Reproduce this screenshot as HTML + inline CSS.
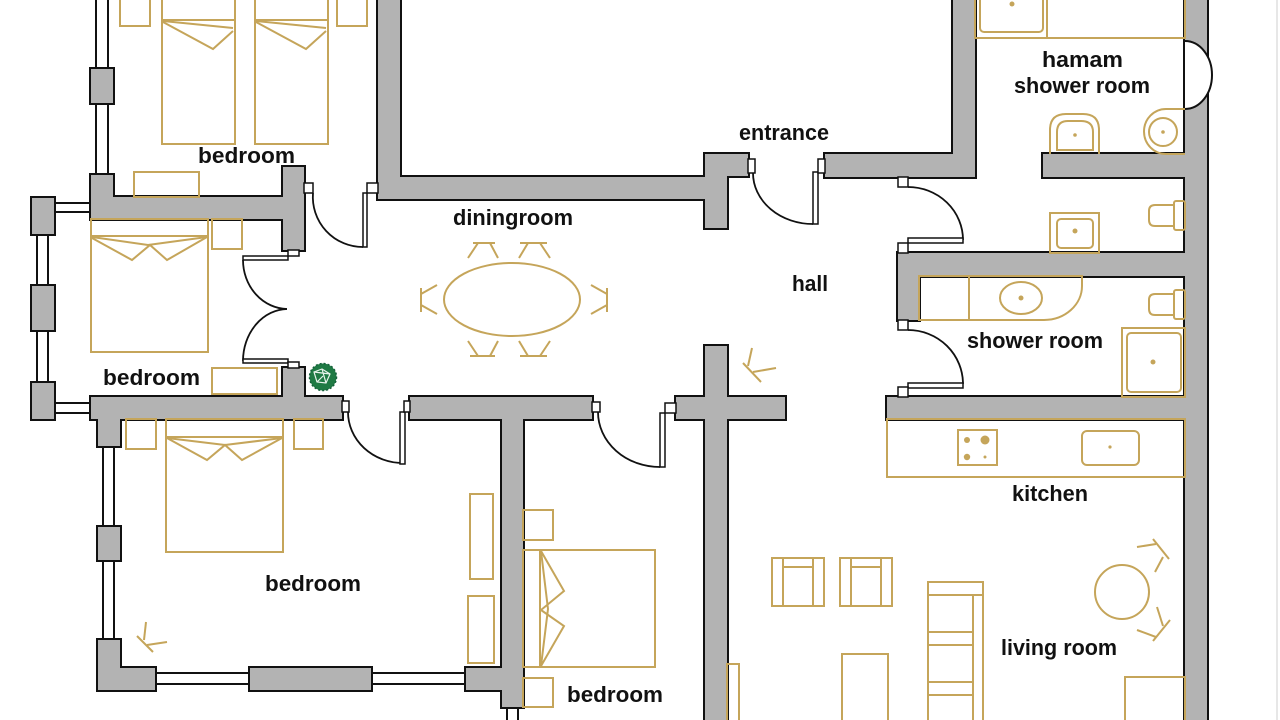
<!DOCTYPE html>
<html><head><meta charset="utf-8"><style>
html,body{margin:0;padding:0;background:#fff;}
svg{display:block;}
text{font-family:"Liberation Sans",sans-serif;font-weight:bold;fill:#111;font-size:22px;}
</style></head><body>
<svg width="1280" height="720" viewBox="0 0 1280 720" xmlns="http://www.w3.org/2000/svg">
<rect x="0" y="0" width="1280" height="720" fill="#fff"/>
<line x1="1277" y1="0" x2="1277" y2="720" stroke="#cfcfcf" stroke-width="1"/>

<!-- windows -->
<g fill="#fff" stroke="#111" stroke-width="2">
<rect x="96" y="-5" width="12" height="180"/>
<rect x="54" y="203" width="37" height="9"/>
<rect x="37" y="234" width="11" height="149"/>
<rect x="54" y="403" width="37" height="10"/>
<rect x="103" y="446" width="11" height="194"/>
<rect x="155" y="673" width="311" height="11"/>
<rect x="507" y="707" width="11" height="20"/>
</g>

<!-- walls pass 1 (stroke) -->
<g id="walls" fill="#b3b3b3" stroke="#111" stroke-width="4">
<rect x="91" y="69" width="22" height="34"/>
<rect x="91" y="175" width="22" height="44"/>
<rect x="91" y="197" width="213" height="22"/>
<rect x="283" y="167" width="21" height="83"/>
<rect x="32" y="198" width="22" height="36"/>
<rect x="32" y="286" width="22" height="44"/>
<rect x="32" y="383" width="22" height="36"/>
<rect x="91" y="397" width="251" height="22"/>
<rect x="283" y="368" width="21" height="29"/>
<rect x="98" y="419" width="22" height="27"/>
<rect x="98" y="527" width="22" height="33"/>
<rect x="98" y="640" width="22" height="50"/>
<rect x="98" y="668" width="57" height="22"/>
<rect x="250" y="668" width="121" height="22"/>
<rect x="466" y="668" width="36" height="22"/>
<rect x="502" y="397" width="21" height="310"/>
<rect x="410" y="397" width="182" height="22"/>
<rect x="676" y="397" width="109" height="22"/>
<rect x="705" y="346" width="22" height="380"/>
<rect x="378" y="-5" width="22" height="204"/>
<rect x="378" y="177" width="327" height="22"/>
<rect x="705" y="154" width="43" height="22"/>
<rect x="705" y="154" width="22" height="74"/>
<rect x="825" y="154" width="150" height="23"/>
<rect x="953" y="-5" width="22" height="182"/>
<rect x="1043" y="154" width="142" height="23"/>
<rect x="1185" y="-5" width="22" height="730"/>
<rect x="898" y="253" width="287" height="23"/>
<rect x="898" y="253" width="21" height="67"/>
<rect x="887" y="397" width="298" height="22"/>
</g>
<!-- walls pass 2 (fill only) -->
<g fill="#b3b3b3" stroke="none">
<rect x="91" y="69" width="22" height="34"/>
<rect x="91" y="175" width="22" height="44"/>
<rect x="91" y="197" width="213" height="22"/>
<rect x="283" y="167" width="21" height="83"/>
<rect x="32" y="198" width="22" height="36"/>
<rect x="32" y="286" width="22" height="44"/>
<rect x="32" y="383" width="22" height="36"/>
<rect x="91" y="397" width="251" height="22"/>
<rect x="283" y="368" width="21" height="29"/>
<rect x="98" y="419" width="22" height="27"/>
<rect x="98" y="527" width="22" height="33"/>
<rect x="98" y="640" width="22" height="50"/>
<rect x="98" y="668" width="57" height="22"/>
<rect x="250" y="668" width="121" height="22"/>
<rect x="466" y="668" width="36" height="22"/>
<rect x="502" y="397" width="21" height="310"/>
<rect x="410" y="397" width="182" height="22"/>
<rect x="676" y="397" width="109" height="22"/>
<rect x="705" y="346" width="22" height="380"/>
<rect x="378" y="-5" width="22" height="204"/>
<rect x="378" y="177" width="327" height="22"/>
<rect x="705" y="154" width="43" height="22"/>
<rect x="705" y="154" width="22" height="74"/>
<rect x="825" y="154" width="150" height="23"/>
<rect x="953" y="-5" width="22" height="182"/>
<rect x="1043" y="154" width="142" height="23"/>
<rect x="1185" y="-5" width="22" height="730"/>
<rect x="898" y="253" width="287" height="23"/>
<rect x="898" y="253" width="21" height="67"/>
<rect x="887" y="397" width="298" height="22"/>
</g>

<!-- hamam arched opening -->
<path d="M1185,41 A27,34 0 0 1 1185,109 Z" fill="#fff" stroke="none"/>
<path d="M1185,41 A27,34 0 0 1 1185,109" fill="none" stroke="#111" stroke-width="2"/>

<!-- door arcs -->
<g fill="none" stroke="#111" stroke-width="1.8">
<path d="M313,193 A50,50 0 0 0 363,247"/>
<path d="M753,173 A60,51 0 0 0 813,224"/>
<path d="M348,412 A55,51 0 0 0 403,463"/>
<path d="M598,412 A62,55 0 0 0 660,467"/>
<path d="M243,260 A45,49 0 0 0 287,309"/>
<path d="M243,361 A45,52 0 0 1 287,309"/>
<path d="M908,187 A55,53 0 0 1 963,240"/>
<path d="M908,330 A55,54 0 0 1 963,384"/>
</g>
<!-- door leaves & jambs -->
<g fill="#fff" stroke="#111" stroke-width="1.5">
<rect x="363" y="193" width="4" height="54"/>
<rect x="813" y="172" width="5" height="52"/>
<rect x="243" y="256" width="45" height="4"/>
<rect x="243" y="359" width="45" height="4"/>
<rect x="400" y="412" width="5" height="52"/>
<rect x="660" y="413" width="5" height="54"/>
<rect x="908" y="238" width="55" height="5"/>
<rect x="908" y="383" width="55" height="5"/>
<rect x="304" y="183" width="9" height="10"/>
<rect x="367" y="183" width="11" height="10"/>
<rect x="748" y="159" width="7" height="14"/>
<rect x="818" y="159" width="7" height="14"/>
<rect x="288" y="250" width="11" height="6"/>
<rect x="288" y="362" width="11" height="6"/>
<rect x="342" y="401" width="7" height="11"/>
<rect x="404" y="401" width="6" height="11"/>
<rect x="592" y="402" width="8" height="10"/>
<rect x="665" y="403" width="11" height="10"/>
<rect x="898" y="177" width="10" height="10"/>
<rect x="898" y="243" width="10" height="10"/>
<rect x="898" y="320" width="10" height="10"/>
<rect x="898" y="387" width="10" height="10"/>
</g>

<!-- furniture -->
<g fill="none" stroke="#c5a55a" stroke-width="2">
<!-- top-left bedroom -->
<rect x="120" y="-3" width="30" height="29"/>
<rect x="162" y="-3" width="73" height="147"/>
<line x1="162" y1="20" x2="235" y2="20"/>
<polyline points="163,21 233,28"/>
<polyline points="163,22 213,49 233,31"/>
<rect x="255" y="-3" width="73" height="147"/>
<line x1="255" y1="20" x2="328" y2="20"/>
<polyline points="256,21 326,28"/>
<polyline points="256,22 306,49 326,31"/>
<rect x="337" y="-3" width="30" height="29"/>
<rect x="134" y="172" width="65" height="25"/>
<!-- middle-left bedroom -->
<rect x="91" y="219" width="117" height="133"/>
<line x1="91" y1="236" x2="208" y2="236"/>
<polyline points="92,237 148,245 207,237"/>
<polyline points="92,238 132,260 150,245 167,260 207,237"/>
<rect x="212" y="219" width="30" height="30"/>
<rect x="212" y="368" width="65" height="26"/>
<!-- lower-left bedroom -->
<rect x="126" y="419" width="30" height="30"/>
<rect x="166" y="419" width="117" height="133"/>
<line x1="166" y1="437" x2="283" y2="437"/>
<polyline points="167,438 225,445 282,438"/>
<polyline points="167,438 207,460 225,445 242,460 282,438"/>
<rect x="294" y="419" width="29" height="30"/>
<line x1="146" y1="622" x2="144" y2="640"/>
<line x1="137" y1="636" x2="153" y2="652"/>
<line x1="147" y1="645" x2="167" y2="642"/>
<rect x="470" y="494" width="23" height="85"/>
<rect x="468" y="596" width="26" height="67"/>
<!-- bottom middle bedroom -->
<rect x="523" y="510" width="30" height="30"/>
<rect x="523" y="550" width="132" height="117"/>
<line x1="540" y1="550" x2="540" y2="667"/>
<polyline points="541,551 564,591 541,610 564,626 541,666"/>
<polyline points="541,551 548,609 541,666"/>
<rect x="523" y="678" width="30" height="29"/>
<!-- dining -->
<ellipse cx="512" cy="299.5" rx="68" ry="36.5"/>
<line x1="473" y1="243" x2="495" y2="243"/><line x1="478" y1="243" x2="468" y2="258"/><line x1="490" y1="243" x2="498" y2="258"/>
<line x1="520" y1="243" x2="547" y2="243"/><line x1="528" y1="243" x2="519" y2="258"/><line x1="540" y1="243" x2="550" y2="258"/>
<line x1="470" y1="356" x2="495" y2="356"/><line x1="478" y1="356" x2="468" y2="341"/><line x1="490" y1="356" x2="498" y2="341"/>
<line x1="520" y1="356" x2="547" y2="356"/><line x1="528" y1="356" x2="519" y2="341"/><line x1="540" y1="356" x2="550" y2="341"/>
<line x1="421" y1="288" x2="421" y2="312"/><line x1="421" y1="294" x2="437" y2="285"/><line x1="421" y1="305" x2="437" y2="314"/>
<line x1="607" y1="288" x2="607" y2="312"/><line x1="607" y1="294" x2="591" y2="285"/><line x1="607" y1="305" x2="591" y2="314"/>
<!-- hall chair -->
<line x1="752" y1="348" x2="748" y2="366"/>
<line x1="743" y1="363" x2="761" y2="382"/>
<line x1="753" y1="372" x2="776" y2="368"/>
<!-- hamam -->
<rect x="975" y="-3" width="210" height="41"/>
<line x1="1047" y1="-3" x2="1047" y2="38"/>
<rect x="980" y="-6" width="63" height="38" rx="4"/>
<path d="M1050,154 V130 Q1050,114 1066,114 H1083 Q1099,114 1099,130 V154"/>
<path d="M1057,150 V132 Q1057,121 1068,121 H1081 Q1093,121 1093,132 V150 Z"/>
<path d="M1185,109 H1166 A22,22.5 0 0 0 1166,154 H1185"/>
<circle cx="1163" cy="132" r="14"/>
<!-- wc -->
<rect x="1050" y="213" width="49" height="40"/>
<rect x="1057" y="219" width="36" height="29" rx="4"/>
<rect x="1174" y="201" width="11" height="29" rx="2"/>
<path d="M1174,205 H1155 Q1149,205 1149,211 V220 Q1149,226 1155,226 H1174"/>
<!-- shower room -->
<path d="M919,276 H1082 V286 A38,34 0 0 1 1044,320 H919 Z"/>
<line x1="969" y1="276" x2="969" y2="320"/>
<ellipse cx="1021" cy="298" rx="21" ry="16"/>
<rect x="1174" y="290" width="11" height="29" rx="2"/>
<path d="M1174,294 H1155 Q1149,294 1149,300 V309 Q1149,315 1155,315 H1174"/>
<rect x="1122" y="328" width="63" height="69"/>
<rect x="1127" y="333" width="54" height="59" rx="4"/>
<!-- kitchen -->
<rect x="887" y="419" width="298" height="58"/>
<rect x="958" y="430" width="39" height="35"/>
<rect x="1082" y="431" width="57" height="34" rx="5"/>
<!-- living -->
<rect x="772" y="558" width="52" height="48"/>
<line x1="783" y1="558" x2="783" y2="606"/><line x1="813" y1="558" x2="813" y2="606"/><line x1="783" y1="567" x2="813" y2="567"/>
<rect x="840" y="558" width="52" height="48"/>
<line x1="851" y1="558" x2="851" y2="606"/><line x1="881" y1="558" x2="881" y2="606"/><line x1="851" y1="567" x2="881" y2="567"/>
<rect x="842" y="654" width="46" height="72"/>
<rect x="928" y="582" width="55" height="145"/>
<line x1="928" y1="595" x2="983" y2="595"/>
<line x1="973" y1="595" x2="973" y2="727"/>
<line x1="928" y1="632" x2="973" y2="632"/><line x1="928" y1="645" x2="973" y2="645"/>
<line x1="928" y1="682" x2="973" y2="682"/><line x1="928" y1="695" x2="973" y2="695"/>
<rect x="727" y="664" width="12" height="62"/>
<circle cx="1122" cy="592" r="27"/>
<line x1="1153" y1="539" x2="1169" y2="559"/><line x1="1156" y1="544" x2="1137" y2="547"/><line x1="1163" y1="557" x2="1155" y2="572"/>
<line x1="1170" y1="620" x2="1153" y2="641"/><line x1="1156" y1="637" x2="1137" y2="630"/><line x1="1163" y1="626" x2="1157" y2="607"/>
<rect x="1125" y="677" width="60" height="50"/>
</g>
<!-- gold dots -->
<g fill="#c5a55a">
<circle cx="1012" cy="4" r="2.5"/>
<circle cx="1075" cy="135" r="1.8"/>
<circle cx="1163" cy="132" r="1.8"/>
<circle cx="1075" cy="231" r="2.5"/>
<circle cx="1021" cy="298" r="2.5"/>
<circle cx="1153" cy="362" r="2.5"/>
<circle cx="967" cy="440" r="3"/>
<circle cx="985" cy="440" r="4.5"/>
<circle cx="967" cy="457" r="3.2"/>
<circle cx="985" cy="457" r="1.5"/>
<circle cx="1110" cy="447" r="1.6"/>
</g>

<!-- plant -->
<g>
<circle cx="323" cy="377" r="13.5" fill="#1f7a44"/>
<g fill="none" stroke="#e8f3ec" stroke-width="1.2">
<path d="M314,372 L322,369 L330,374 L326,383 L317,382 Z"/>
<path d="M322,369 L326,383 M314,372 L330,374 M317,382 L323,376"/>
</g>
<circle cx="323" cy="377" r="13.5" fill="none" stroke="#14603a" stroke-width="1.5" stroke-dasharray="2 2"/>
</g>

<!-- labels -->
<text x="198" y="163" textLength="97" lengthAdjust="spacingAndGlyphs">bedroom</text>
<text x="453" y="225" textLength="120" lengthAdjust="spacingAndGlyphs">diningroom</text>
<text x="739" y="140" textLength="90" lengthAdjust="spacingAndGlyphs">entrance</text>
<text x="792" y="291" textLength="36" lengthAdjust="spacingAndGlyphs">hall</text>
<text x="1042" y="67" textLength="81" lengthAdjust="spacingAndGlyphs">hamam</text>
<text x="1014" y="93" textLength="136" lengthAdjust="spacingAndGlyphs">shower room</text>
<text x="967" y="348" textLength="136" lengthAdjust="spacingAndGlyphs">shower room</text>
<text x="103" y="385" textLength="97" lengthAdjust="spacingAndGlyphs">bedroom</text>
<text x="265" y="591" textLength="96" lengthAdjust="spacingAndGlyphs">bedroom</text>
<text x="567" y="702" textLength="96" lengthAdjust="spacingAndGlyphs">bedroom</text>
<text x="1012" y="501" textLength="76" lengthAdjust="spacingAndGlyphs">kitchen</text>
<text x="1001" y="655" textLength="116" lengthAdjust="spacingAndGlyphs">living room</text>
</svg>
</body></html>
